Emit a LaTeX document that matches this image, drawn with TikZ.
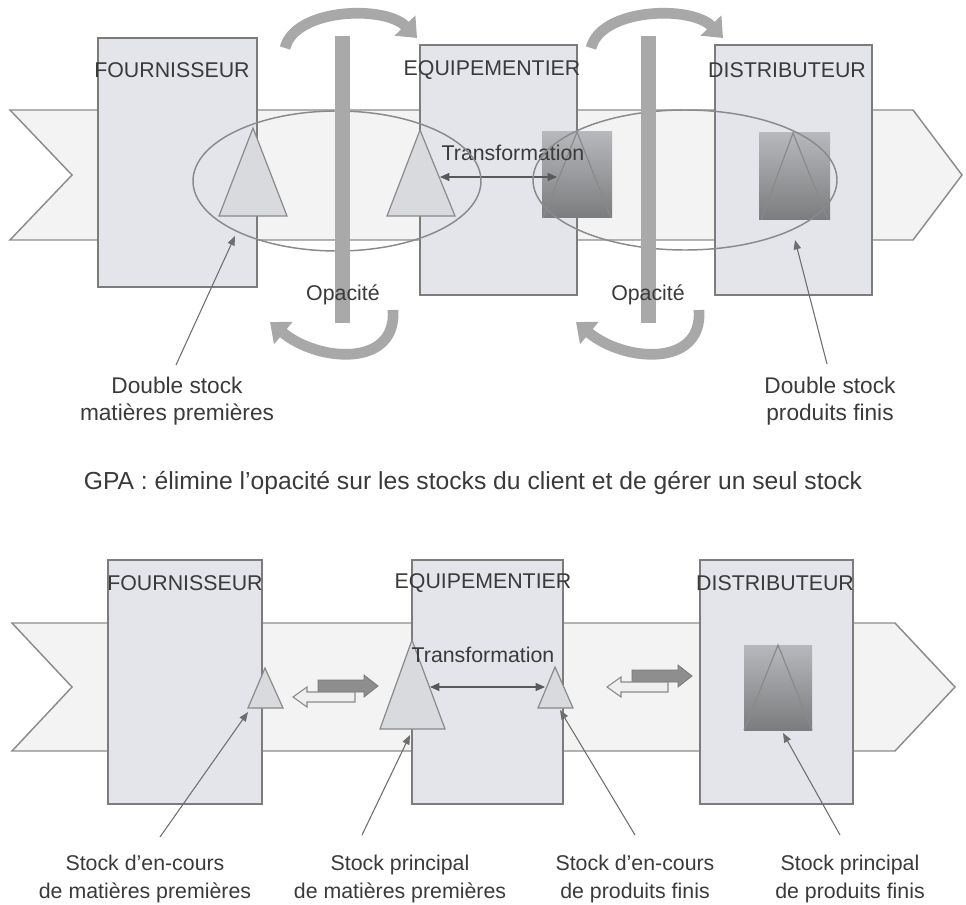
\documentclass[tikz,border=0pt]{standalone}
\usepackage{fontspec}
\setmainfont{Liberation Sans}
\usetikzlibrary{arrows.meta}
\definecolor{bandfill}{HTML}{F3F3F3}
\definecolor{bandline}{HTML}{8C8C8C}
\definecolor{boxfill}{HTML}{E3E5EA}
\definecolor{boxline}{HTML}{7C7C7C}
\definecolor{trifill}{HTML}{D8DADE}
\definecolor{triline}{HTML}{8A8A8A}
\definecolor{sqtop}{HTML}{B6B8BB}
\definecolor{sqbot}{HTML}{7A7C7E}
\definecolor{barcol}{HTML}{A9A9A9}
\definecolor{arccol}{HTML}{A8A8A8}
\definecolor{elcol}{HTML}{8A8A8A}
\definecolor{txt}{HTML}{3A3A3A}
\definecolor{ptr}{HTML}{6E6E6E}
\definecolor{darkarr}{HTML}{8E8E8E}
\definecolor{lightarr}{HTML}{EFEFEF}
\begin{document}
\begin{tikzpicture}[x=0.75pt,y=-0.75pt,
  band/.style={fill=bandfill,draw=bandline,line width=1.1pt,line join=miter},
  box/.style={fill=boxfill,draw=boxline,line width=1.1pt},
  tri/.style={fill=trifill,draw=triline,line width=0.9pt,line join=miter},
  sq/.style={top color=sqtop,bottom color=sqbot},
  sqtri/.style={draw=triline,line width=0.9pt},
  ell/.style={draw=elcol,line width=1.1pt},
  lbl/.style={text=txt,font=\fontsize{16}{19}\selectfont,inner sep=0pt},
  sm/.style={text=txt,font=\fontsize{16}{20.5}\selectfont,align=center,inner sep=0pt},
  smb/.style={text=txt,font=\fontsize{17}{20}\selectfont,align=center,inner sep=0pt},
  ttl/.style={text=txt,font=\fontsize{18.5}{22}\selectfont,inner sep=0pt},
  curvarrow/.style={draw=arccol,line width=8pt,-{Triangle[length=13pt,width=21pt]}},
  ptrarrow/.style={draw=ptr,line width=0.8pt,-{Triangle[length=7pt,width=5.5pt]}},
  dblarrow/.style={draw=ptr!80!black,line width=0.8pt,{Triangle[length=7pt,width=6pt]}-{Triangle[length=7pt,width=6pt]}},
  darkblk/.style={fill=darkarr,draw=darkarr!85!black,line width=0.6pt},
  lightblk/.style={fill=lightarr,draw=triline,line width=0.8pt}
]
\useasboundingbox (0,0) rectangle (966,905);
\fill[white] (0,0) rectangle (966,905);

% ================= UPPER DIAGRAM =================
\path[band] (10,110) -- (913,110) -- (962,175) -- (913,240) -- (10,240) -- (72,175) -- cycle;

% curved arrows
\draw[curvarrow] (285,48) .. controls (295,8) and (385,5) .. (417,38);
\draw[curvarrow] (591,48) .. controls (601,8) and (691,5) .. (723,38);
\draw[curvarrow] (393,310) .. controls (397,368) and (318,362) .. (270,322);
\draw[curvarrow] (699,310) .. controls (703,368) and (624,362) .. (576,322);

% boxes
\path[box] (98,38) rectangle (257,287);
\path[box] (420,45) rectangle (577,295);
\path[box] (715,45) rectangle (872,295);
\node[lbl] (f1) at (172,70) {FOURNISSEUR};
\node[lbl] (e1) at (492,70) {EQUIPEMENTIER};
\node[lbl] (d1) at (787,70) {DISTRIBUTEUR};

% stocks
\path[tri] (253,128) -- (287,216) -- (219,216) -- cycle;
\path[tri] (420,130) -- (455,216) -- (387,216) -- cycle;
\shade[sq] (542,132) rectangle (612,218);
\draw[sqtri] (543,218) -- (577,132) -- (611,218);
\shade[sq] (759,133) rectangle (830,220);
\draw[sqtri] (761,220) -- (793,133) -- (828,220);

% transformation
\node[lbl] (tr1) at (513,153) {Transformation};
\coordinate (ta1) at (440,177);
\coordinate (tb1) at (557,177);
\draw[dblarrow] (ta1) -- (tb1);

% ellipses
\draw[ell] (337,181) ellipse [x radius=144,y radius=70];
\draw[ell] (685,180) ellipse [x radius=152,y radius=70];

% opacity bars
\fill[barcol] (335,36) rectangle (350,323);
\fill[barcol] (641,36) rectangle (656,323);
\node[lbl] (op1) at (343,295) {Opacité};
\node[lbl] (op2) at (648,295) {Opacité};

% labels and pointers
\node[smb] (ds1) at (177,401) {Double stock\\matières premières};
\node[smb] (ds2) at (830,401) {Double stock\\produits finis};
\coordinate (p1s) at (176,365);
\coordinate (p1e) at (235,236);
\coordinate (p2s) at (827,364);
\coordinate (p2e) at (795,240);
\draw[ptrarrow] (p1s) -- (p1e);
\draw[ptrarrow] (p2s) -- (p2e);

% ================= TITLE =================
\node[ttl] (gpa) at (473,483) {GPA : élimine l'opacité sur les stocks du client et de gérer un seul stock};

% ================= LOWER DIAGRAM =================
\path[band] (12,623) -- (895,623) -- (955,687) -- (895,751) -- (12,751) -- (72,687) -- cycle;
\path[box] (108,560) rectangle (262,804);
\path[box] (412,560) rectangle (563,804);
\path[box] (700,560) rectangle (853,804);
\node[lbl] (f2) at (185,583) {FOURNISSEUR};
\node[lbl] (e2) at (483,583) {EQUIPEMENTIER};
\node[lbl] (d2) at (775,583) {DISTRIBUTEUR};

\path[tri] (265,668) -- (283,708) -- (248,708) -- cycle;
\path[tri] (412,640) -- (445,729) -- (380,729) -- cycle;
\path[tri] (555,667) -- (573,708) -- (538,708) -- cycle;
\shade[sq] (744,645) rectangle (812,730);
\draw[sqtri] (744,730) -- (778,645) -- (812,730);

\node[lbl] (tr2) at (483,655) {Transformation};
\coordinate (ta2) at (430,687);
\coordinate (tb2) at (545,687);
\draw[dblarrow] (ta2) -- (tb2);

% exchange arrows
\path[darkblk] (318,680) -- (364,680) -- (364,675) -- (378,686) -- (364,697) -- (364,692) -- (318,692) -- cycle;
\path[lightblk] (355,692) -- (307,692) -- (307,687) -- (293,697) -- (307,707) -- (307,702) -- (355,702) -- cycle;
\path[darkblk] (632,670) -- (678,670) -- (678,665) -- (692,676) -- (678,687) -- (678,682) -- (632,682) -- cycle;
\path[lightblk] (668,682) -- (621,682) -- (621,677) -- (607,687) -- (621,697) -- (621,692) -- (668,692) -- cycle;

% labels and pointers
\node[sm] (l1) at (145,879) {Stock d'en-cours\\de matières premières};
\node[sm] (l2) at (400,879) {Stock principal\\de matières premières};
\node[sm] (l3) at (635,879) {Stock d'en-cours\\de produits finis};
\node[sm] (l4) at (850,879) {Stock principal\\de produits finis};
\coordinate (q1s) at (160,837);
\coordinate (q1e) at (248,712);
\coordinate (q2s) at (362,835);
\coordinate (q2e) at (410,735);
\coordinate (q3s) at (635,835);
\coordinate (q3e) at (560,710);
\coordinate (q4s) at (840,835);
\coordinate (q4e) at (783,733);
\draw[ptrarrow] (q1s) -- (q1e);
\draw[ptrarrow] (q2s) -- (q2e);
\draw[ptrarrow] (q3s) -- (q3e);
\draw[ptrarrow] (q4s) -- (q4e);
\end{tikzpicture}
\end{document}
